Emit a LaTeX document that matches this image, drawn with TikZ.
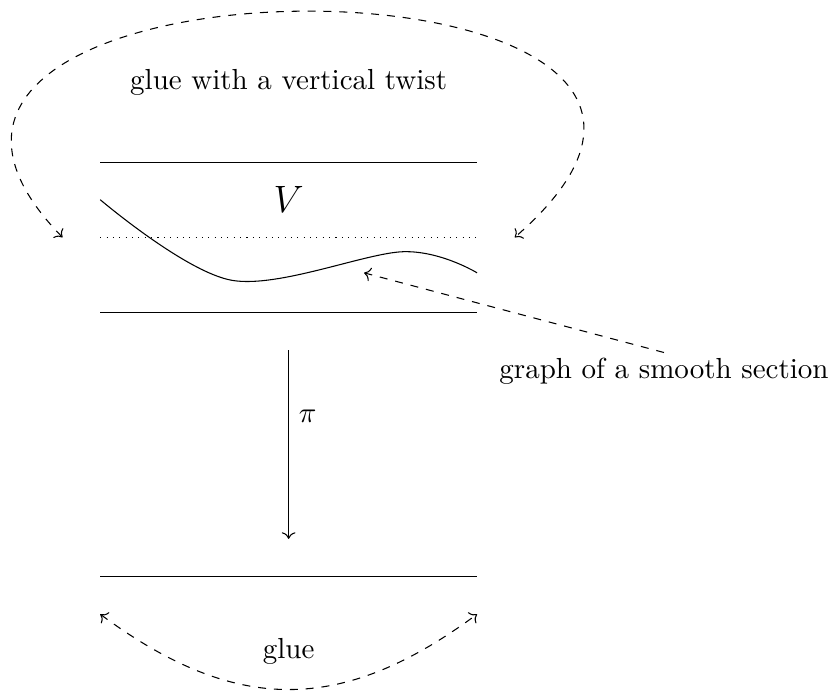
\documentclass[11pt,tikz,border=0pt]{standalone}
\usepackage{amsmath,amssymb}
\usepackage{tikz}
\usetikzlibrary{arrows.meta,positioning,calc}
\tikzset{
  % horizontal sheets
  sheet/.style={line cap=butt},
  levelline/.style={dotted},
  % section graph
  sectcurve/.style={smooth,tension=0.55},
  % glue arrows
  gluearrow/.style={dashed,<->},
  pointer/.style={dashed,->},
  projarrow/.style={->},
  lbl/.style={inner sep=2pt},
}
\begin{document}
\begin{tikzpicture}
\useasboundingbox (-1.33,-1.55) rectangle (9.71,7.65);

%% ---- band V ----
\coordinate (vTL) at (0,5.5);
\coordinate (vTR) at (5,5.5);
\coordinate (vBL) at (0,3.5);
\coordinate (vBR) at (5,3.5);
\coordinate (midL) at (0,4.5);
\coordinate (midR) at (5,4.5);
\draw[sheet] (vTL) -- (vTR);
\draw[sheet] (vBL) -- (vBR);
\draw[levelline] (midL) -- (midR);
\node[lbl] (vlbl) at (2.5,5) {\Large$V$};

%% ---- smooth section ----
\draw plot[sectcurve] coordinates {(0,5) (1.75,3.93) (4.02,4.31) (5,4.03)};

%% ---- base ----
\coordinate (bL) at (0,0);
\coordinate (bR) at (5,0);
\draw[sheet] (bL) -- (bR);

%% ---- projection ----
\coordinate (piTop) at (2.5,3);
\coordinate (piBot) at (2.5,0.5);
\draw[projarrow] (piTop) -- node[right,pos=0.35]{$\pi$} (piBot);

%% ---- twisted glue ----
\coordinate (twistL) at (-0.5,4.5);
\coordinate (twistR) at (5.5,4.5);
\draw[gluearrow] (twistL) .. controls (-4.4,8.5) and (10.1,8.5) .. (twistR);
\node[lbl] (twistlbl) at (2.5,6.55) {glue with a vertical twist};

%% ---- section pointer ----
\node[lbl] (sectlbl) at (7.48,2.72) {graph of a smooth section};
\coordinate (sectpt) at (3.5,4.03);
\draw[pointer] (sectlbl.north) -- (sectpt);

%% ---- base glue ----
\coordinate (glueL) at (0,-0.5);
\coordinate (glueR) at (5,-0.5);
\draw[gluearrow] (glueL) .. controls (1.8,-1.83) and (3.2,-1.83) .. (glueR);
\node[lbl] (gluelbl) at (2.5,-1.0) {glue};
\end{tikzpicture}
\end{document}
